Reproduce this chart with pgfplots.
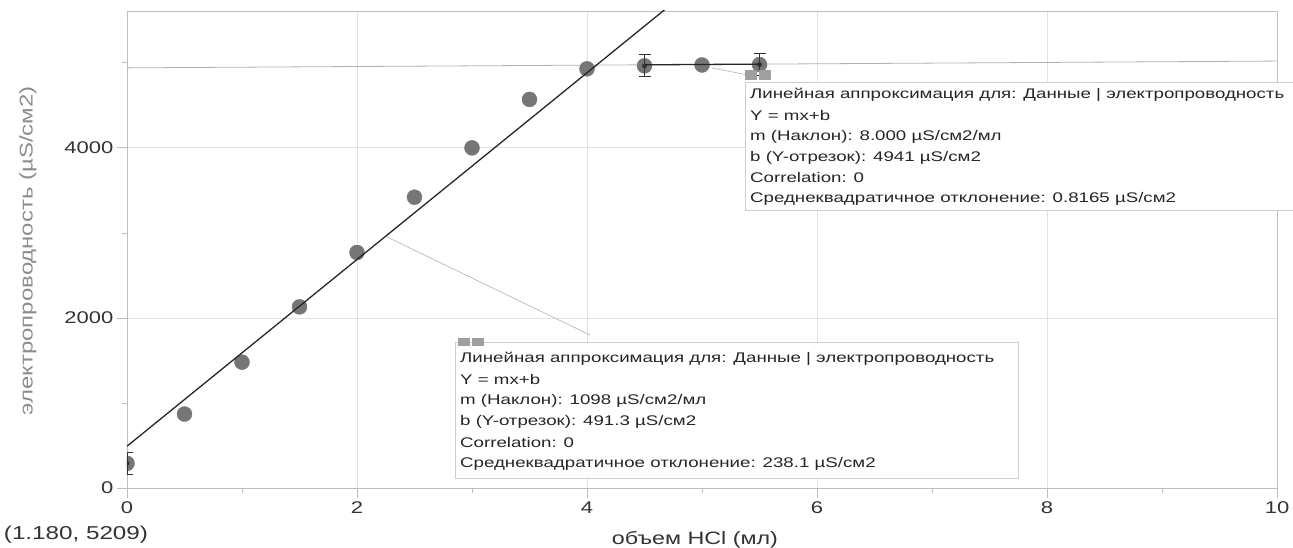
\documentclass[border=0pt]{standalone}
\usepackage{pgfplots}
\pgfplotsset{compat=1.18}
\usepackage{fontspec}
\setmainfont{Liberation Sans}
\newfontfamily\sfx{Liberation Sans}[FakeStretch=1.3]
\newfontfamily\bfx{Liberation Sans}[FakeStretch=1.34]
\definecolor{mk}{RGB}{118,118,118}
\definecolor{gridc}{RGB}{225,225,225}
\definecolor{axc}{RGB}{190,190,190}
\definecolor{boxc}{RGB}{205,205,205}
\begin{document}
\begin{tikzpicture}[x=1bp,y=1bp]
\useasboundingbox (-127,-60) rectangle (1166,488);
\begin{axis}[
  at={(0,0)}, anchor=south west,
  scale only axis, width=1150bp, height=477bp,
  xmin=0, xmax=10, ymin=0, ymax=5610,
  xtick={0,2,4,6,8,10}, minor xtick={1,3,5,7,9},
  ytick={0,2000,4000}, minor ytick={1000,3000,5000},
  xtick pos=bottom, ytick pos=left,
  grid=major, major grid style={gridc, line width=0.8bp},
  axis line style={axc, line width=0.8bp},
  tick style={axc, line width=0.8bp},
  tick align=outside, major tick length=10bp, minor tick length=5bp,
  /pgf/number format/assume math mode=true,
  /pgf/number format/1000 sep={},
  scaled y ticks=false,
  every tick label/.append style={font=\sfx\fontsize{17}{20}\selectfont, text=black!80},
  xlabel={объем HCl (мл)},
  xlabel style={at={(axis description cs:0.4939,-0.109)}, anchor=center, font=\sfx\fontsize{18}{21}\selectfont, text=black!80},
  ylabel={электропроводность (µS/см2)},
  ylabel style={at={(axis description cs:-0.0861,0.497)}, anchor=center, rotate=0, font=\sfx\fontsize{18.5}{21}\selectfont, text=black!45},
  clip marker paths=true,
]
% extended gray fit line
\addplot[gray!60, line width=0.8bp, forget plot] coordinates {(0,4941) (10,5021)};
% data
\addplot[only marks, mark=*, mark size=7.5bp, mk, mark options={draw=mk, fill=mk}] coordinates {
(0,290) (0.5,870) (1,1480) (1.5,2130) (2,2770) (2.5,3420) (3,4000) (3.5,4570) (4,4930) (4.5,4965) (5,4975) (5.5,4980)};
% error bars on selected points
\addplot[only marks, mark=none, black!80, line width=0.9bp,
  error bars/.cd, y dir=both, y explicit, error mark options={rotate=90, mark size=6bp, line width=0.9bp, black!80}]
  coordinates {(0,290) +- (0,130) (4.5,4965) +- (0,130) (5.5,4980) +- (0,130)};
% fit lines
\addplot[black!85, line width=1.3bp] coordinates {(0,491.3) (5,5981.3)};
\addplot[black!85, line width=1.3bp] coordinates {(4.5,4977) (5.5,4985)};
\end{axis}
\begin{scope}[shift={(-127,-60)}]
% bottom-left readout
\node[font=\sfx\fontsize{18.7}{21}\selectfont, text=black!80] at (76,13) {(1.180, 5209)};
% connectors
\draw[gray!55, line width=0.7bp] (387,311) -- (590,213);
\draw[gray!55, line width=0.7bp] (712,480) -- (748,473);
% box 1
\draw[boxc, fill=white, line width=0.8bp] (455,70) rectangle (1018,206);
\fill[gray!75] (458,202) rectangle (470,210);
\fill[gray!75] (472,202) rectangle (484,210);
\begin{scope}[every node/.style={anchor=west, inner sep=0pt, font=\bfx\fontsize{14}{16}\selectfont, text=black!85}]
\node at (460,189) {Линейная аппроксимация для: Данные | электропроводность};
\node at (460,168) {Y = mx+b};
\node at (460,147) {m (Наклон): 1098 µS/см2/мл};
\node at (460,126) {b (Y-отрезок): 491.3 µS/см2};
\node at (460,105) {Correlation: 0};
\node at (460,84) {Среднеквадратичное отклонение: 238.1 µS/см2};
\end{scope}
% box 2
\draw[boxc, fill=white, line width=0.8bp] (745,338) rectangle (1300,466);
\fill[gray!75] (745,468) rectangle (757,478);
\fill[gray!75] (759,468) rectangle (771,478);
\begin{scope}[every node/.style={anchor=west, inner sep=0pt, font=\bfx\fontsize{14}{16}\selectfont, text=black!85}]
\node at (750,453) {Линейная аппроксимация для: Данные | электропроводность};
\node at (750,432) {Y = mx+b};
\node at (750,411) {m (Наклон): 8.000 µS/см2/мл};
\node at (750,390) {b (Y-отрезок): 4941 µS/см2};
\node at (750,370) {Correlation: 0};
\node at (750,349) {Среднеквадратичное отклонение: 0.8165 µS/см2};
\end{scope}
\end{scope}
\end{tikzpicture}
\end{document}
